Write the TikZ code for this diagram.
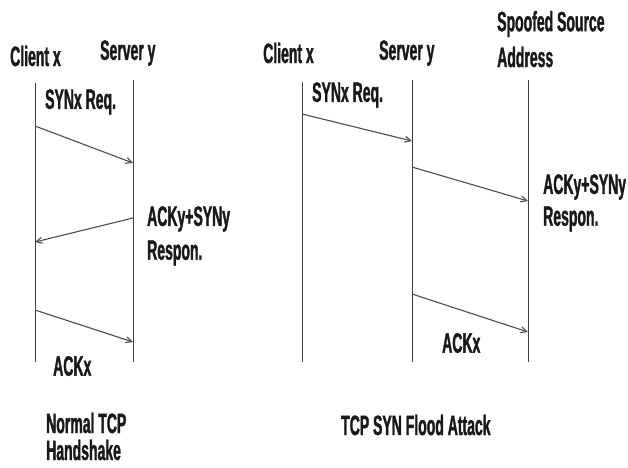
\documentclass[tikz,border=0pt]{standalone}
\usepackage{fontspec}
\setmainfont{Liberation Sans}[FakeStretch=0.5,BoldFeatures={FakeBold=1.2}]
\usetikzlibrary{arrows.meta}
\begin{document}
\begin{tikzpicture}[x=1pt,y=-1pt,
  lab/.style={font=\bfseries\fontsize{28}{30}\selectfont, inner sep=0pt, anchor=west, text=black!90},
  lifeline/.style={draw=black!75, line width=1pt},
  msg/.style={draw=black!70, line width=1.1pt, -{Straight Barb[length=6pt,width=6pt]}}]
\useasboundingbox (0,0) rectangle (628,467);
% lifelines left
\coordinate (c1t) at (35,83);   \coordinate (c1b) at (35,362);
\coordinate (s1t) at (133,80);  \coordinate (s1b) at (133,362);
% lifelines right
\coordinate (c2t) at (302,82);  \coordinate (c2b) at (302,362);
\coordinate (s2t) at (412,80);  \coordinate (s2b) at (412,362);
\coordinate (p2t) at (528,80);  \coordinate (p2b) at (528,362);
\draw[lifeline] (c1t) -- (c1b);
\draw[lifeline] (s1t) -- (s1b);
\draw[lifeline] (c2t) -- (c2b);
\draw[lifeline] (s2t) -- (s2b);
\draw[lifeline] (p2t) -- (p2b);
% headers
\node[lab] (hc1) at (10,56) {Client x};
\node[lab] (hs1) at (100,53) {Server y};
\node[lab] (hc2) at (263,53) {Client x};
\node[lab] (hs2) at (379,53) {Server y};
\node[lab] (hp2a) at (497,24) {Spoofed Source};
\node[lab] (hp2b) at (497,57) {Address};
% left messages
\coordinate (a1s) at (35,126);  \coordinate (a1e) at (133,163);
\coordinate (a2s) at (133,218); \coordinate (a2e) at (35,242);
\coordinate (a3s) at (35,310);  \coordinate (a3e) at (133,342);
\draw[msg] (a1s) -- (a1e);
\draw[msg] (a2s) -- (a2e);
\draw[msg] (a3s) -- (a3e);
\node[lab] (l1) at (45,102) {SYNx Req.};
\node[lab] (l2a) at (147,219) {ACKy+SYNy};
\node[lab] (l2b) at (147,253) {Respon.};
\node[lab] (l3) at (53,366) {ACKx};
\node[lab] (t1a) at (46,423) {Normal TCP};
\node[lab] (t1b) at (46,450) {Handshake};
% right messages
\coordinate (b1s) at (302,114); \coordinate (b1e) at (412,141);
\coordinate (b2s) at (412,167); \coordinate (b2e) at (528,201);
\coordinate (b3s) at (412,294); \coordinate (b3e) at (528,332);
\draw[msg] (b1s) -- (b1e);
\draw[msg] (b2s) -- (b2e);
\draw[msg] (b3s) -- (b3e);
\node[lab] (r1) at (312,95) {SYNx Req.};
\node[lab] (r2a) at (543,187) {ACKy+SYNy};
\node[lab] (r2b) at (543,219) {Respon.};
\node[lab] (r3) at (442,343) {ACKx};
\node[lab] (t2) at (341,425) {TCP SYN Flood Attack};
\end{tikzpicture}
\end{document}
